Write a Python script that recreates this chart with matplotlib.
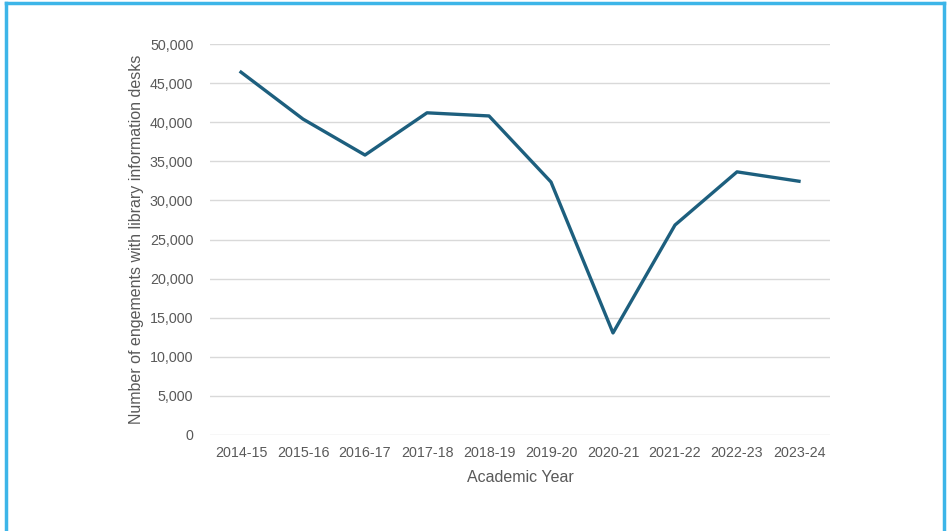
import matplotlib
matplotlib.use("Agg")
import matplotlib.pyplot as plt
from matplotlib.lines import Line2D
from matplotlib.ticker import FuncFormatter

# data
years = ["2014-15", "2015-16", "2016-17", "2017-18", "2018-19",
         "2019-20", "2020-21", "2021-22", "2022-23", "2023-24"]
engagements = [46400, 40400, 35800, 41200, 40800,
               32350, 13050, 26850, 33650, 32450]

plt.rcParams['font.family'] = ['Liberation Sans', 'DejaVu Sans']

fig = plt.figure(figsize=(9.48, 5.31), dpi=100)
ax = fig.add_axes([210 / 948, 1 - 435 / 531, 620 / 948, 391 / 531])

x = range(len(years))
ax.plot(x, engagements, color="#1D5F7E", linewidth=2.4, solid_joinstyle="round")

ax.set_xlim(-0.5, len(years) - 0.5)
ax.set_ylim(0, 50000)
ax.set_yticks(range(0, 50001, 5000))
ax.yaxis.set_major_formatter(FuncFormatter(lambda v, p: f"{int(v):,}"))
ax.set_xticks(list(x))
ax.set_xticklabels(years)

ax.grid(axis="y", color="#D9D9D9", linewidth=1)
ax.set_axisbelow(True)
for s in ax.spines.values():
    s.set_visible(False)
ax.tick_params(axis="both", length=0, labelsize=10.3, colors="#595959", pad=8)
ax.tick_params(axis="y", pad=12)

ax.set_xlabel("Academic Year", fontsize=11.5, color="#595959", labelpad=7)
ax.set_ylabel("Number of engements with library information desks",
              fontsize=11.5, color="#595959", labelpad=4)

# light blue frame round the chart (bottom edge falls outside)
c = "#3DB5E8"
fig.add_artist(Line2D([6 / 948, 6 / 948], [0, 1 - 3 / 531], color=c, lw=2.5, transform=fig.transFigure))
fig.add_artist(Line2D([944 / 948, 944 / 948], [0, 1 - 3 / 531], color=c, lw=2.5, transform=fig.transFigure))
fig.add_artist(Line2D([6 / 948, 944 / 948], [1 - 3 / 531, 1 - 3 / 531], color=c, lw=2.5, transform=fig.transFigure))

fig.savefig("out.png", dpi=100)
